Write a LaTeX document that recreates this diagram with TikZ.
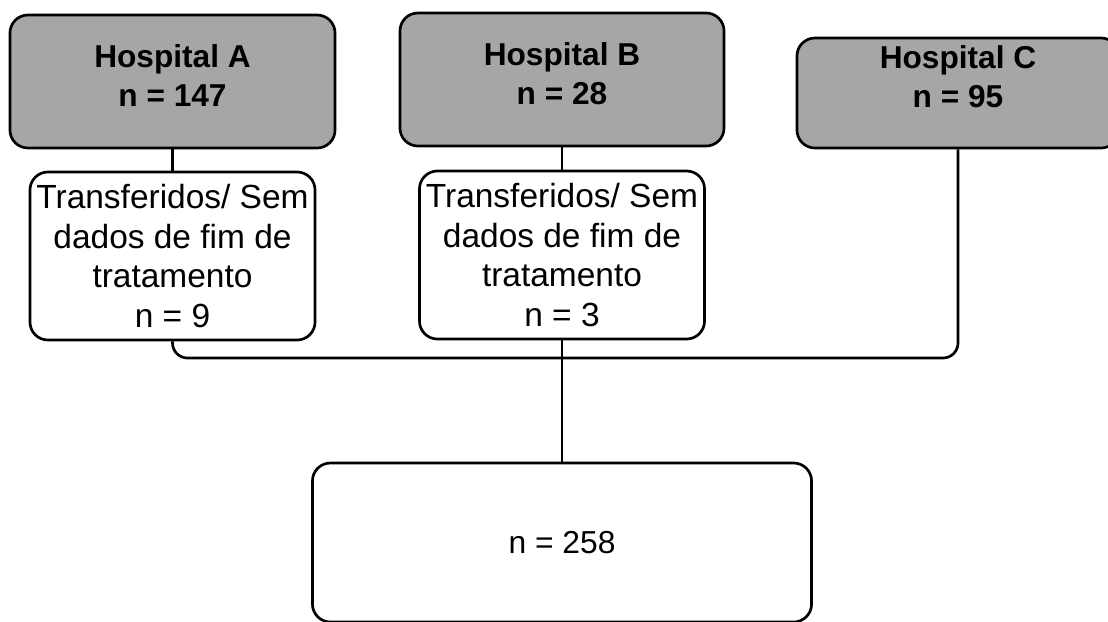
\documentclass[tikz,border=0pt]{standalone}
\usepackage{fontspec}
\setmainfont{Liberation Sans}
\usepackage{xcolor}
\definecolor{hospgray}{HTML}{A6A6A6}

\begin{document}
\begin{tikzpicture}[x=0.025cm, y=-0.025cm, line width=1.9pt]
\tikzstyle{box}=[rectangle, rounded corners=0.45cm, draw, inner sep=0pt, align=center, font=\fontsize{22.6}{28}\selectfont]
\tikzstyle{hosp}=[box, fill=hospgray, minimum height=3.325cm]
\tikzstyle{hosptxt}=[align=center, font=\fontsize{22.5}{27.5}\selectfont\bfseries]
\tikzstyle{lost}=[box, minimum width=7.125cm, minimum height=4.2cm, font=\fontsize{23.8}{28.4}\selectfont]
\useasboundingbox (0,0) rectangle (1108,621);
\clip (0,0) rectangle (1108,621);
\node[hosp, minimum width=8.125cm] (ha) at (172.5,81.5) {};
\node[hosp, minimum width=8.1cm] (hb) at (562,79.5) {};
\node[hosp, minimum width=8.05cm, minimum height=2.75cm] (hc) at (958,93) {};
\node[hosptxt, yshift=0.15cm] (ha-txt) at (ha) {Hospital A\\n = 147};
\node[hosptxt, yshift=0.15cm] (hb-txt) at (hb) {Hospital B\\n = 28};
\node[hosptxt, yshift=0.4cm] (hc-txt) at (hc) {Hospital C\\n = 95};
\node[lost] (ta) at (172.5,256) {Transferidos/ Sem\\dados de fim de\\tratamento\\n = 9};
\node[lost] (tb) at (562,255) {Transferidos/ Sem\\dados de fim de\\tratamento\\n = 3};
\node[box, minimum width=12.475cm, minimum height=3.975cm] (total) at (562,542.5) {n = 258};
\coordinate (join) at (562,358);
\draw (ha) -- (ta);
\draw (hb) -- (tb);
\draw[rounded corners=0.375cm] (ta.south) |- (join) -| (hc.south);
\draw (tb.south) -- (total.north);
\end{tikzpicture}
\end{document}
